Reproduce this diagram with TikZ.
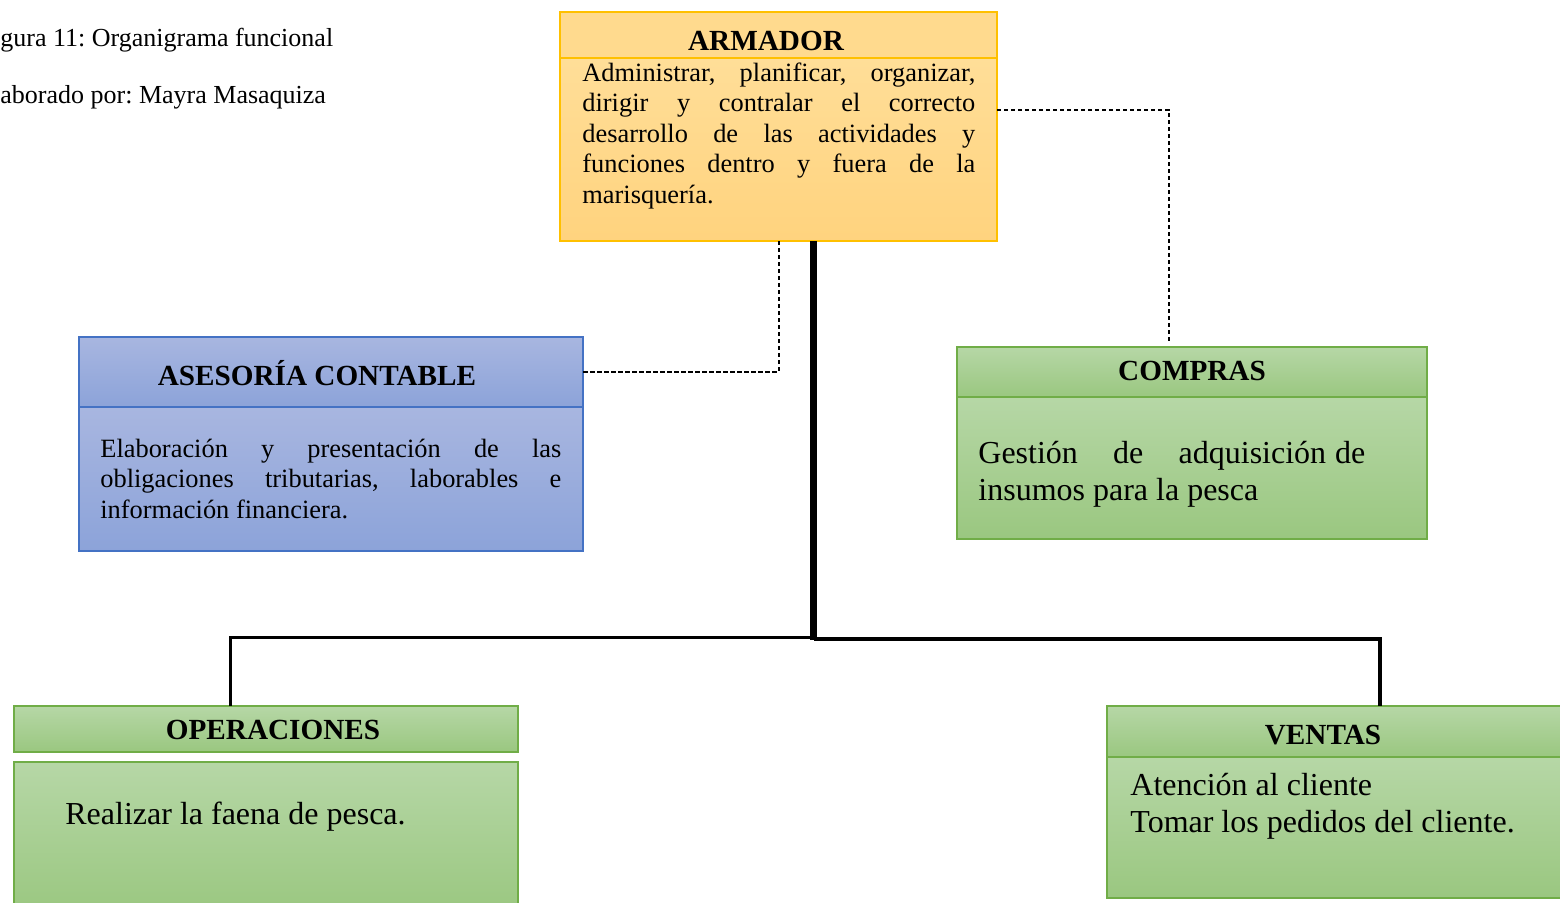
\documentclass[tikz,border=0pt]{standalone}
\usepackage{fontspec}
\setmainfont{Liberation Serif}
\frenchspacing
\definecolor{orT}{RGB}{255,222,152}
\definecolor{orB}{RGB}{255,211,126}
\definecolor{orH}{RGB}{255,218,142}
\definecolor{orD}{RGB}{255,192,0}
\definecolor{blT}{RGB}{168,182,224}
\definecolor{blB}{RGB}{140,163,217}
\definecolor{blD}{RGB}{68,114,196}
\definecolor{grT}{RGB}{182,215,166}
\definecolor{grB}{RGB}{154,199,128}
\definecolor{grD}{RGB}{112,173,71}
\newcommand\jline[2]{\makebox[#1][s]{#2}}
\newcommand\normsp{\spaceskip=0pt\xspaceskip=0pt\relax}
\begin{document}
\begin{tikzpicture}[x=0.5pt,y=-0.5pt,
  boxbase/.style={rectangle,inner sep=0pt,outer sep=0pt,line width=0.75pt},
  orbox/.style={boxbase,draw=orD,top color=orT,bottom color=orB},
  blbox/.style={boxbase,draw=blD,top color=blT,bottom color=blB},
  grbox/.style={boxbase,draw=grD,top color=grT,bottom color=grB},
  titletext/.style={anchor=base,inner sep=0pt,font=\bfseries\fontsize{14.6pt}{17pt}\selectfont},
  smalltext/.style={anchor=base west,inner sep=0pt,align=left,font=\fontsize{13.2pt}{15.3pt}\selectfont},
  bigtext/.style={anchor=base west,inner sep=0pt,align=left,font=\fontsize{16pt}{18.5pt}\selectfont},
  captext/.style={anchor=base west,inner sep=0pt,font=\fontsize{13pt}{15pt}\selectfont},
  solidlink/.style={draw=black,line cap=butt},
  dashlink/.style={draw=black,line width=1pt,dash pattern=on 2.2pt off 1.3pt}]
\clip (0,0) rectangle (1560,902);
\fill[white] (0,0) rectangle (1560,902);

% caption
\node[captext] (cap1) at (0,46) {gura 11: Organigrama funcional};
\node[captext] (cap2) at (0,103) {aborado por: Mayra Masaquiza};

% ARMADOR
\node[orbox,minimum width=218.5pt,minimum height=91.5pt] (armb) at (778.5,149.5) {};
\node[orbox,top color=orH,bottom color=orH,minimum width=218.5pt,minimum height=23pt] (armh) at (778.5,35) {};
\node[titletext] (armt) at (766,50) {ARMADOR};
\node[smalltext,text width=196.5pt] (armx) at (582,81) {\normsp
\jline{196.5pt}{Administrar, planificar, organizar,}\\
\jline{196.5pt}{dirigir y contralar el correcto}\\
\jline{196.5pt}{desarrollo de las actividades y}\\
\jline{196.5pt}{funciones dentro y fuera de la}\\
marisquería.};

% ASESORIA CONTABLE
\node[blbox,minimum width=252pt,minimum height=35pt] (aseh) at (331,372) {};
\node[blbox,minimum width=252pt,minimum height=72pt] (aseb) at (331,479) {};
\node[titletext] (aset) at (317,385) {ASESORÍA CONTABLE};
\node[smalltext,text width=230.5pt] (asex) at (100,457) {\normsp
\jline{230.5pt}{Elaboración y presentación de las}\\
\jline{230.5pt}{obligaciones tributarias, laborables e}\\
información financiera.};

% COMPRAS
\node[grbox,minimum width=235pt,minimum height=25pt] (comh) at (1192,372) {};
\node[grbox,minimum width=235pt,minimum height=71pt] (comb) at (1192,468) {};
\node[titletext] (comt) at (1192,380) {COMPRAS};
\node[bigtext,text width=200pt] (comx) at (978,463) {\normsp
\hbox to 193.5pt{Gestión\hfill de\hfill adquisición\hspace{4.5pt}de}\\
insumos para la pesca};

% OPERACIONES
\node[grbox,minimum width=252pt,minimum height=23pt] (oph) at (266,729) {};
\node[grbox,minimum width=252pt,minimum height=76.5pt] (opb) at (266,838.5) {};
\node[titletext] (opt) at (273,739) {OPERACIONES};
\node[bigtext,text width=220pt] (opx) at (65,824) {\normsp Realizar la faena de pesca.};

% VENTAS
\node[grbox,minimum width=229.5pt,minimum height=25.5pt] (veh) at (1336.5,731.5) {};
\node[grbox,minimum width=229.5pt,minimum height=70.5pt] (veb) at (1336.5,827.5) {};
\node[titletext] (vet) at (1323,744) {VENTAS};
\node[bigtext,text width=215pt] (vex) at (1130,795) {\normsp Atención al cliente\\Tomar los pedidos del cliente.};

% connectors
\coordinate (jmain) at (813.5,640);
\coordinate (jleft) at (813.5,637.5);
\coordinate (jright) at (813.5,639);
\draw[solidlink,line width=3.1pt] ([xshift=17.5pt]armb.south) -- (jmain);
\draw[solidlink,line width=1.5pt] ([xshift=-18pt]oph.north) |- (jleft);
\draw[solidlink,line width=2pt] ([xshift=21.75pt]veh.north) |- (jright);
\draw[dashlink] (armb.south) |- (aseh.east);
\draw[dashlink] ([yshift=20pt]armb.east) -| ([xshift=-11.75pt,yshift=2pt]comh.north);
\end{tikzpicture}
\end{document}
